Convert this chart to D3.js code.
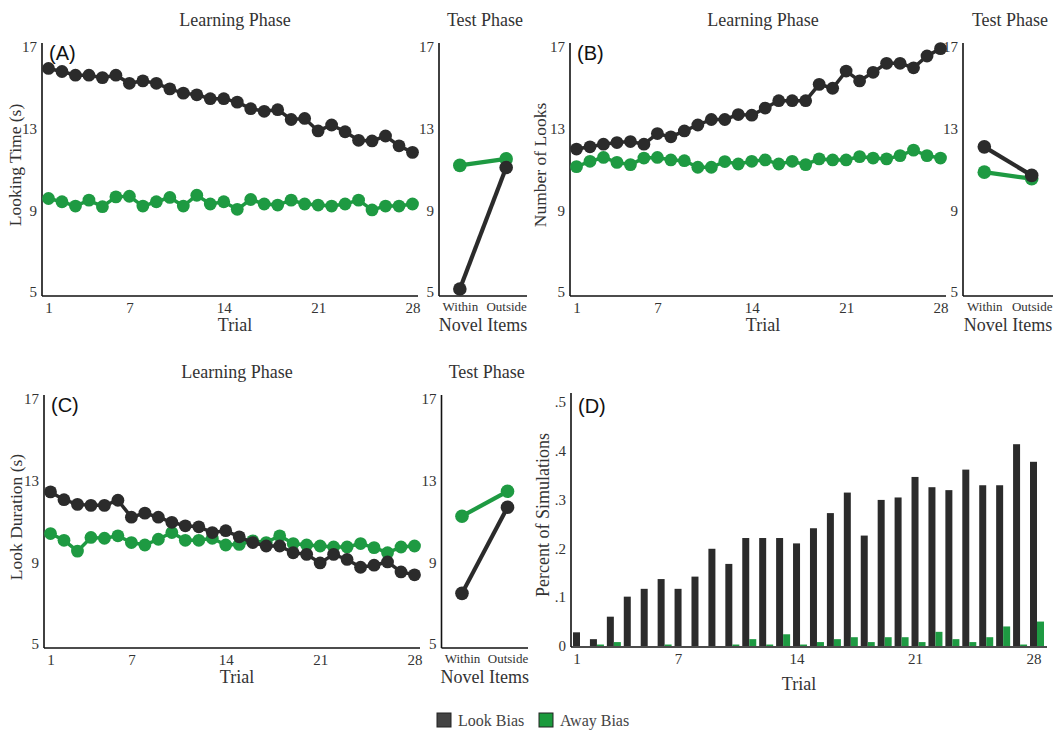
<!DOCTYPE html>
<html>
<head>
<meta charset="utf-8">
<script src="https://cdn.jsdelivr.net/npm/d3@7"></script>
<style>
  body { margin: 0; background: #fff; }
  text { font-family: 'Liberation Serif', 'Times New Roman', serif; }
</style>
</head>
<body>
<svg id="chart" width="1063" height="733"></svg>
<script>
// ----- Data -----
let trials = d3.range(1, 29)
let testItems = ['Within', 'Outside']

// (A) Looking Time
let lookTimeLook = [15.95, 15.8, 15.62, 15.62, 15.5, 15.62, 15.22, 15.34, 15.22, 14.95, 14.74, 14.66, 14.47, 14.47,
                    14.3, 13.98, 13.85, 13.93, 13.45, 13.5, 12.89, 13.18, 12.85, 12.43, 12.4, 12.64, 12.16, 11.84]
let lookTimeAway = [9.58, 9.42, 9.21, 9.5, 9.18, 9.66, 9.69, 9.21, 9.42, 9.63, 9.21, 9.74, 9.31, 9.42,
                    9.05, 9.53, 9.31, 9.26, 9.5, 9.31, 9.26, 9.21, 9.31, 9.5, 9.02, 9.21, 9.21, 9.31]
let lookTimeTestLook = [5.15, 11.1]
let lookTimeTestAway = [11.2, 11.52]

// (B) Number of Looks
let numLooksLook = [12.0, 12.11, 12.24, 12.32, 12.37, 12.24, 12.76, 12.6, 12.89, 13.18, 13.45, 13.45, 13.69, 13.66,
                    14.01, 14.37, 14.37, 14.37, 15.17, 14.98, 15.82, 15.34, 15.76, 16.2, 16.2, 15.98, 16.56, 16.92]
let numLooksAway = [11.14, 11.4, 11.59, 11.35, 11.24, 11.56, 11.59, 11.47, 11.43, 11.11, 11.11, 11.39, 11.27, 11.4,
                    11.47, 11.27, 11.4, 11.24, 11.52, 11.47, 11.47, 11.63, 11.56, 11.52, 11.68, 11.95, 11.68, 11.56]
let numLooksTestLook = [12.11, 10.71]
let numLooksTestAway = [10.87, 10.55]

// (C) Look Duration
let durationLook = [12.45, 12.07, 11.84, 11.79, 11.79, 12.04, 11.21, 11.41, 11.21, 10.96, 10.79, 10.74, 10.46, 10.55,
                    10.25, 9.97, 9.8, 9.8, 9.47, 9.39, 8.97, 9.39, 9.14, 8.76, 8.86, 9.02, 8.53, 8.39]
let durationAway = [10.41, 10.08, 9.55, 10.22, 10.18, 10.3, 9.97, 9.85, 10.13, 10.46, 10.08, 10.08, 10.18, 9.85,
                    9.88, 10.05, 9.97, 10.3, 9.92, 9.85, 9.8, 9.75, 9.75, 9.92, 9.72, 9.47, 9.75, 9.8]
let durationTestLook = [7.48, 11.7]
let durationTestAway = [11.26, 12.48]

// (D) Percent of Simulations
let simLook = [0.028, 0.014, 0.06, 0.101, 0.117, 0.137, 0.117, 0.142, 0.199, 0.168, 0.221, 0.221, 0.221, 0.21,
               0.241, 0.272, 0.314, 0.226, 0.299, 0.304, 0.346, 0.325, 0.319, 0.361, 0.329, 0.329, 0.413, 0.377]
let simAway = [0, 0.003, 0.008, 0, 0, 0.003, 0, 0, 0, 0.003, 0.014, 0.003, 0.024, 0.003,
               0.008, 0.014, 0.018, 0.008, 0.018, 0.018, 0.008, 0.029, 0.014, 0.008, 0.018, 0.04, 0.003, 0.05]

let trialTicks = [1, 7, 14, 21, 28]
let valueTicks = [5, 9, 13, 17]
let pctTicks = [0, 0.1, 0.2, 0.3, 0.4, 0.5]
let legendLabels = ['Look Bias', 'Away Bias']

// ----- Styles -----
let lookColor = '#2b2b2b'
let awayColor = '#1e9a42'
let axisColor = '#111'
let svg = d3.select('#chart')

function axisLines(g, x0, x1, yTop, yBottom) {
    g.append('line').attr('x1', x0).attr('x2', x0).attr('y1', yTop).attr('y2', yBottom)
     .attr('stroke', axisColor).attr('stroke-width', 1.6)
    g.append('line').attr('x1', x0).attr('x2', x1).attr('y1', yBottom).attr('y2', yBottom)
     .attr('stroke', axisColor).attr('stroke-width', 1.6)
}

function yTickLabels(g, scale, ticks, xAxis, fmt) {
    let axis = d3.axisLeft(scale).tickValues(ticks).tickSize(0).tickPadding(5).tickFormat(fmt || d3.format('d'))
    let ag = g.append('g').attr('transform', 'translate(' + xAxis + ',0)').call(axis)
    ag.select('.domain').remove()
    ag.selectAll('text').attr('font-size', '15px').attr('fill', '#333')
}

function xTickLabels(g, scale, ticks, yAxis, size) {
    let axis = d3.axisBottom(scale).tickSize(0).tickPadding(6)
    if (ticks) axis.tickValues(ticks)
    let ag = g.append('g').attr('transform', 'translate(0,' + yAxis + ')').call(axis)
    ag.select('.domain').remove()
    ag.selectAll('text').attr('font-size', size).attr('fill', '#333')
}

function label(g, x, y, str, size, rotate) {
    let t = g.append('text')
             .attr('text-anchor', 'middle')
             .attr('font-size', size)
             .attr('fill', '#333')
             .text(str)
    if (rotate) t.attr('transform', 'translate(' + x + ',' + y + ') rotate(-90)')
    else t.attr('x', x).attr('y', y)
}

function tag(g, x, y, str) {
    g.append('text').attr('x', x).attr('y', y)
     .style('font-family', "'Liberation Sans', Arial, sans-serif")
     .attr('font-size', '20px').attr('fill', '#111')
     .text(str)
}

function series(g, x, y, xs, values, color, r, sw) {
    let pts = xs.map(function (d, i) { return [x(d), y(values[i])] })
    g.append('path')
     .attr('d', d3.line()(pts))
     .attr('fill', 'none')
     .attr('stroke', color)
     .attr('stroke-width', sw)
    g.selectAll(null)
     .data(pts)
     .enter()
     .append('circle')
     .attr('cx', function (d) { return d[0] })
     .attr('cy', function (d) { return d[1] })
     .attr('r', r)
     .attr('fill', color)
}

// one learning + test panel pair
function linePanel(p) {
    let g = svg.append('g')
    let y = d3.scaleLinear().domain([5, 17]).range([p.top + 249, p.top + 4])
    let yBottom = p.top + 253
    let yTop = p.top

    // learning
    let x = d3.scaleLinear().domain([1, 28]).range([p.lx0 + 6.5, p.lx1 - 5.5])
    axisLines(g, p.lx0, p.lx1, yTop, yBottom)
    yTickLabels(g, y, valueTicks, p.lx0)
    xTickLabels(g, x, trialTicks, yBottom, '15px')
    series(g, x, y, trials, p.away, awayColor, 6.4, 3.5)
    series(g, x, y, trials, p.look, lookColor, 6.4, 3.5)
    label(g, (p.lx0 + p.lx1) / 2 + 5, p.top - 17, 'Learning Phase', '18px')
    label(g, (p.lx0 + p.lx1) / 2 + 5, yBottom + 35, 'Trial', '18px')
    label(g, p.ylabX, p.top + 122, p.ylabel, '17.5px', true)
    tag(g, p.lx0 + 7, p.top + 17, p.tag)

    // test
    let xt = d3.scalePoint().domain(testItems).range([p.tx0, p.tx1]).padding(0.45)
    axisLines(g, p.tx0, p.tx1, yTop, yBottom)
    yTickLabels(g, y, valueTicks, p.tx0)
    xTickLabels(g, xt, null, yBottom, '13px')
    series(g, xt, y, testItems, p.testAway, awayColor, 6.8, 4.2)
    series(g, xt, y, testItems, p.testLook, lookColor, 6.8, 4.2)
    label(g, (p.tx0 + p.tx1) / 2 + 2, p.top - 17, 'Test Phase', '18px')
    label(g, (p.tx0 + p.tx1) / 2, yBottom + 35, 'Novel Items', '18px')
}

linePanel({top: 43, lx0: 42, lx1: 418, tx0: 439, tx1: 527, ylabX: 21, tag: '(A)', ylabel: 'Looking Time (s)',
           look: lookTimeLook, away: lookTimeAway, testLook: lookTimeTestLook, testAway: lookTimeTestAway})
linePanel({top: 43, lx0: 570, lx1: 946, tx0: 963, tx1: 1053, ylabX: 546, tag: '(B)', ylabel: 'Number of Looks',
           look: numLooksLook, away: numLooksAway, testLook: numLooksTestLook, testAway: numLooksTestAway})
linePanel({top: 395, lx0: 44, lx1: 420, tx0: 441.5, tx1: 528, ylabX: 22, tag: '(C)', ylabel: 'Look Duration (s)',
           look: durationLook, away: durationAway, testLook: durationTestLook, testAway: durationTestAway})

// ----- (D) bars -----
let gD = svg.append('g')
let xD = d3.scaleLinear().domain([1, 28]).range([576.5, 1033.5])
let yD = d3.scaleLinear().domain([0, 0.5]).range([646, 401.7])
let barW = 7
axisLines(gD, 571, 1047, 393, 647)
yTickLabels(gD, yD, pctTicks, 571, function (d) { return d === 0 ? '0' : d3.format('.1f')(d).replace(/^0/, '') })
xTickLabels(gD, xD, trialTicks, 647, '15px')

gD.selectAll('rect.look')
  .data(simLook)
  .enter()
  .append('rect')
  .attr('class', 'look')
  .attr('x', function (d, i) { return xD(trials[i]) - barW / 2 })
  .attr('y', function (d) { return yD(d) })
  .attr('width', barW)
  .attr('height', function (d) { return yD(0) - yD(d) })
  .attr('fill', lookColor)

gD.selectAll('rect.away')
  .data(simAway)
  .enter()
  .append('rect')
  .attr('class', 'away')
  .attr('x', function (d, i) { return xD(trials[i]) + barW / 2 })
  .attr('y', function (d) { return yD(d) })
  .attr('width', barW)
  .attr('height', function (d) { return yD(0) - yD(d) })
  .attr('fill', awayColor)

label(gD, 799, 690, 'Trial', '18px')
label(gD, 549, 515, 'Percent of Simulations', '18px', true)
tag(gD, 578, 413, '(D)')

// ----- Legend -----
let legend = svg.append('g').attr('transform', 'translate(437,713)')
let legendColors = ['#444', '#1b9a3c']
let legendX = [0, 102]
legendLabels.forEach(function (name, i) {
    legend.append('rect').attr('x', legendX[i]).attr('y', 0).attr('width', 14).attr('height', 14)
          .attr('fill', legendColors[i]).attr('stroke', '#222').attr('stroke-width', 1)
    legend.append('text').attr('x', legendX[i] + 21).attr('y', 12.5)
          .attr('font-size', '16px').attr('fill', '#444').text(name)
})
</script>
</body>
</html>
